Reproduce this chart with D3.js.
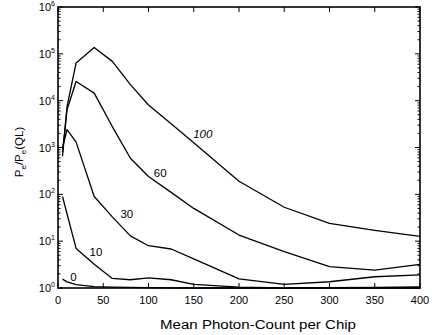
<!DOCTYPE html>
<html>
<head>
<meta charset="utf-8">
<script src="https://cdn.jsdelivr.net/npm/d3@7"></script>
<style>
  body { margin: 0; background: #fff; }
  svg { display: block; font-family: "Liberation Sans", Arial, sans-serif; }
</style>
</head>
<body>
<div id="chart"></div>
<script>
// mean photon count per chip (x) and P_e / P_e(QL) for each curve
const photonCounts = [5, 10, 20, 40, 60, 80, 100, 125, 150, 200, 250, 300, 350, 400];
const ratio100 = [650, 7500, 64000, 136000, 69000, 22000, 8100, 3200, 1260, 190, 53, 24, 17, 12.6];
const ratio60  = [800, 6500, 25700, 14500, 2800, 590, 240, 110, 50, 13.5, 6.0, 2.85, 2.4, 3.2];
const ratio30  = [1000, 2400, 1300, 90, 33, 13, 8, 6.8, 4.2, 1.56, 1.2, 1.36, 1.74, 1.9];
const ratio10  = [90, 38, 7, 3.2, 1.6, 1.5, 1.65, 1.5, 1.2, 1.04, 1.0, 1.02, 1.03, 1.05];
const ratio0   = [1.55, 1.35, 1.18, 1.07, 1.04, 1.03, 1.02, 1.01, 1.0, 1.0, 1.0, 1.0, 1.0, 1.0];

const curveNames = ['100', '60', '30', '10', '0'];
const curveValues = [ratio100, ratio60, ratio30, ratio10, ratio0];
// where each curve label sits, in data units
const labelX = [160, 113, 76, 42, 17];
const labelY = [1950, 288, 38, 6.0, 1.75];

const xTicks = [0, 50, 100, 150, 200, 250, 300, 350, 400];
const yExponents = [0, 1, 2, 3, 4, 5, 6];

const width = 432, height = 335;
const margin = { top: 7, right: 12, bottom: 47, left: 58 };

const svg = d3.select('#chart').append('svg')
  .attr('width', width)
  .attr('height', height);

const x = d3.scaleLinear().domain([0, 400]).range([margin.left, width - margin.right]);
const y = d3.scaleLog().domain([1, 1e6]).range([height - margin.bottom, margin.top]);

const x0 = x.range()[0], x1 = x.range()[1];
const y0 = y.range()[0], y1 = y.range()[1];

// ticks, inward on all four sides
const tickG = svg.append('g').attr('stroke', '#000').attr('stroke-width', 1);
xTicks.forEach(t => {
  tickG.append('line').attr('x1', x(t)).attr('x2', x(t)).attr('y1', y0).attr('y2', y0 - 5);
  tickG.append('line').attr('x1', x(t)).attr('x2', x(t)).attr('y1', y1).attr('y2', y1 + 5);
});
y.ticks().forEach(t => {
  const major = Math.abs(Math.log10(t) - Math.round(Math.log10(t))) < 1e-9;
  const len = major ? 5 : 2.5;
  tickG.append('line').attr('x1', x0).attr('x2', x0 + len).attr('y1', y(t)).attr('y2', y(t));
  tickG.append('line').attr('x1', x1).attr('x2', x1 - len).attr('y1', y(t)).attr('y2', y(t));
});

// frame
svg.append('rect')
  .attr('x', x0).attr('y', y1)
  .attr('width', x1 - x0).attr('height', y0 - y1)
  .attr('fill', 'none').attr('stroke', '#000').attr('stroke-width', 1.6);

// x tick labels
svg.append('g').selectAll('text')
  .data(xTicks).enter().append('text')
  .attr('x', d => x(d))
  .attr('y', y0 + 16)
  .attr('text-anchor', 'middle')
  .attr('font-size', 11)
  .text(d => d);

// y tick labels 10^n
const yLab = svg.append('g').selectAll('text')
  .data(yExponents).enter().append('text')
  .attr('x', x0 - 3)
  .attr('y', d => y(Math.pow(10, d)) + 4)
  .attr('text-anchor', 'end')
  .attr('font-size', 11);
yLab.append('tspan').text('10');
yLab.append('tspan').attr('font-size', 7).attr('dy', -5).text(d => d);

// axis titles
svg.append('text')
  .attr('x', 258)
  .attr('y', 329)
  .attr('text-anchor', 'middle')
  .attr('font-size', 12.5)
  .attr('textLength', 196)
  .attr('lengthAdjust', 'spacingAndGlyphs')
  .text('Mean Photon-Count per Chip');

const yTitle = svg.append('text')
  .attr('transform', `translate(23,152) rotate(-90)`)
  .attr('text-anchor', 'middle')
  .attr('font-size', 11.5);
yTitle.append('tspan').text('P');
yTitle.append('tspan').attr('font-size', 8).attr('dy', 3).text('e');
yTitle.append('tspan').attr('dy', -3).text('/P');
yTitle.append('tspan').attr('font-size', 8).attr('dy', 3).text('e');
yTitle.append('tspan').attr('dy', -3).text('(QL)');

// curves
const line = d3.line()
  .x((d, i) => x(photonCounts[i]))
  .y(d => y(d));

svg.append('g').selectAll('path')
  .data(curveValues).enter().append('path')
  .attr('d', line)
  .attr('fill', 'none')
  .attr('stroke', '#000')
  .attr('stroke-width', 1.3)
  .attr('stroke-linejoin', 'round');

svg.append('g').selectAll('text')
  .data(curveNames).enter().append('text')
  .attr('x', (d, i) => x(labelX[i]))
  .attr('y', (d, i) => y(labelY[i]) + 4)
  .attr('text-anchor', 'middle')
  .attr('font-size', 11.5)
  .attr('font-style', (d, i) => i === 0 ? 'italic' : 'normal')
  .text(d => d);
</script>
</body>
</html>
